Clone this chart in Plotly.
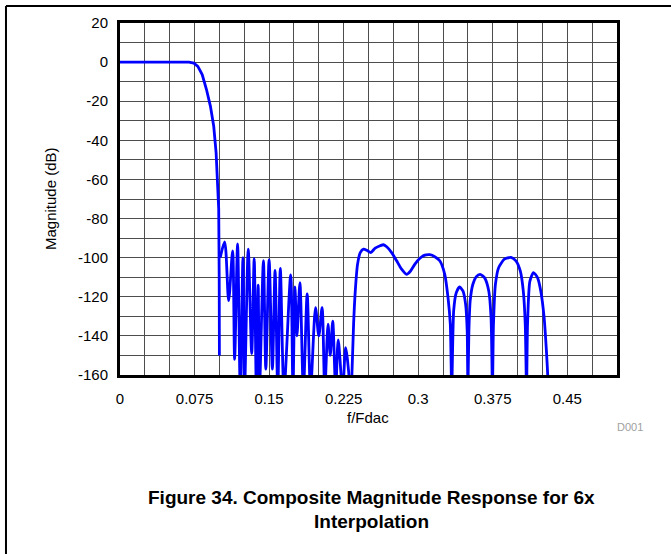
import plotly.graph_objects as go

# Passband and transition
f_pass = [0.0, 0.02, 0.04, 0.06, 0.0693, 0.0743, 0.0783, 0.0827, 0.087, 0.091,
          0.0943, 0.0967, 0.0983, 0.0993, 0.0998, 0.1000]
mag_pass = [0, 0, 0, 0, 0, -0.5, -2.2, -6.4, -14, -22.6,
            -32.8, -46.4, -61.8, -75, -110, -150]

# Stopband lobes (peaks and nulls)
f_stop = [0.1008, 0.1053, 0.1093, 0.1133, 0.1153, 0.1183, 0.1210, 0.1237, 0.1253,
          0.1290, 0.1325, 0.1350, 0.1372, 0.1390, 0.1403, 0.1443, 0.1467, 0.1500,
          0.1533, 0.1560, 0.1587, 0.1613, 0.1650, 0.1717, 0.1740, 0.1760, 0.1780,
          0.1810, 0.1845, 0.1883, 0.1917, 0.1967, 0.2000, 0.2033, 0.2060, 0.2093,
          0.2115, 0.2140, 0.2170, 0.2195, 0.2240, 0.2270, 0.2317]
mag_stop = [-100, -92, -122, -96.5, -152, -93, -168, -100, -168,
            -95.7, -149, -100.5, -168, -114, -168, -101.5, -157, -101,
            -157, -106.5, -168, -105.5, -168, -108.8, -168, -115, -140,
            -112.8, -168, -118.5, -168, -125.6, -140, -125.6, -168, -134,
            -150, -132.5, -168, -142, -168, -146, -168]

# Image band region
f_img = [0.2333, 0.235, 0.2367, 0.239, 0.2417, 0.245, 0.2483, 0.2523, 0.2567, 0.2617,
         0.265, 0.2683, 0.2733, 0.2783, 0.2833, 0.2883, 0.2923, 0.2967, 0.3017, 0.3067,
         0.3117, 0.3167, 0.3217, 0.3267, 0.33, 0.3323, 0.3337,
         0.3357, 0.3383, 0.3417, 0.345, 0.3477, 0.3493, 0.35,
         0.351, 0.3523, 0.355, 0.3583, 0.3623, 0.3667, 0.371, 0.3733, 0.3747,
         0.3757, 0.3777, 0.381, 0.3867, 0.3933, 0.3983, 0.4027, 0.4057, 0.4077, 0.409,
         0.41, 0.4123, 0.416, 0.42, 0.4233, 0.4267, 0.429, 0.4303, 0.431]
mag_img = [-160, -134, -117, -103.3, -97.4, -95.6, -96.2, -97.4, -95.1, -93.9,
           -93.4, -94.4, -97.4, -101.6, -105.9, -108.5, -106.8, -103.3, -100.3, -98.7,
           -98.5, -99.5, -101.6, -108.5, -120.4, -134, -168,
           -127, -117.9, -115, -117, -123.8, -137.5, -168,
           -137.5, -122, -113.6, -109.8, -108.5, -110.2, -117, -130.7, -168,
           -134.4, -113.6, -105, -100.8, -99.9, -101.6, -106.8, -117, -134, -168,
           -134, -112.2, -107.6, -110.2, -117, -130.7, -147.8, -160, -170]

x_ticks = [0, 0.075, 0.15, 0.225, 0.3, 0.375, 0.45]
x_labels = ["0", "0.075", "0.15", "0.225", "0.3", "0.375", "0.45"]
y_ticks = [20, 0, -20, -40, -60, -80, -100, -120, -140, -160]
y_labels = ["20", "0", "-20", "-40", "-60", "-80", "-100", "-120", "-140", "-160"]

fig = go.Figure()
fig.add_trace(go.Scatter(x=f_pass, y=mag_pass, mode="lines",
                         line=dict(color="#0000ff", width=2.8)))
fig.add_trace(go.Scatter(x=f_stop, y=mag_stop, mode="lines",
                         line=dict(color="#0000ff", width=2.8, shape="spline", smoothing=0.8)))
fig.add_trace(go.Scatter(x=f_img, y=mag_img, mode="lines",
                         line=dict(color="#0000ff", width=2.8, shape="spline", smoothing=0.6)))

grid = "#4d4d4d"
fig.update_xaxes(range=[0, 0.5], tickvals=x_ticks, ticktext=x_labels,
                 showgrid=True, gridcolor=grid, gridwidth=1,
                 minor=dict(dtick=0.025, tick0=0, showgrid=True, gridcolor=grid, gridwidth=1),
                 showline=True, linecolor="black", linewidth=3, mirror=True,
                 ticks="", zeroline=False, ticklabelstandoff=8,
                 tickfont=dict(family="Liberation Sans", size=15, color="black"))
fig.update_yaxes(range=[-160, 20], tickvals=y_ticks, ticktext=y_labels,
                 showgrid=True, gridcolor=grid, gridwidth=1,
                 minor=dict(dtick=10, tick0=0, showgrid=True, gridcolor=grid, gridwidth=1),
                 showline=True, linecolor="black", linewidth=3, mirror=True,
                 ticks="", zeroline=False, ticklabelstandoff=6,
                 tickfont=dict(family="Liberation Sans", size=15, color="black"))

# Textos
anot = [
    dict(x=-0.1408, y=0.5, text="Magnitude (dB)", textangle=-90, showarrow=False,
         font=dict(size=15)),
    dict(x=0.498, y=-0.122, text="f/Fdac", showarrow=False, font=dict(size=15)),
    dict(x=1.026, y=-0.148, text="D001", showarrow=False,
         font=dict(size=11, color="#a0a0a0")),
    dict(x=0.506, y=-0.347, text="<b>Figure 34. Composite Magnitude Response for 6x</b>",
         showarrow=False, font=dict(size=19)),
    dict(x=0.506, y=-0.415, text="<b>Interpolation</b>", showarrow=False,
         font=dict(size=19)),
]
for a in anot:
    a.update(xref="paper", yref="paper", xanchor="center", yanchor="middle")
    fig.add_annotation(**a)

# Marco de la figura (solo borde izquierdo y superior)
fig.add_shape(type="line", xref="paper", yref="paper", x0=-0.2294, x1=-0.2294,
              y0=1.0483, y1=-0.52, line=dict(color="black", width=2))
fig.add_shape(type="line", xref="paper", yref="paper", x0=-0.2294, x1=1.12,
              y0=1.0483, y1=1.0483, line=dict(color="black", width=2))

fig.update_layout(width=671, height=554, showlegend=False,
                  margin=dict(l=120, r=54, t=23, b=179),
                  plot_bgcolor="white", paper_bgcolor="white",
                  font=dict(family="Liberation Sans", size=15, color="black"))

# quitar el margen del body para que la figura quede en la esquina
fig.write_html("out.html", config={"displayModeBar": False},
               post_script="document.body.style.margin='0';")
